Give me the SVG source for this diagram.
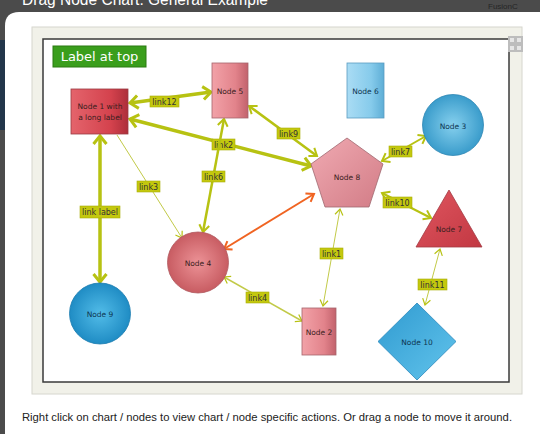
<svg xmlns="http://www.w3.org/2000/svg" width="540" height="434" viewBox="0 0 540 434">
<style>
.nt{font-family:"DejaVu Sans",Verdana,sans-serif;font-size:7.5px;fill:#3a2020;text-anchor:middle}
.bt{fill:#0d3550}
.lb{fill:#c4c80e;stroke:#a9ad08;stroke-width:0.6}
.lt{font-family:"DejaVu Sans",Verdana,sans-serif;font-size:8px;fill:#333;text-anchor:middle}
.ln{fill:none;stroke:#b7c212}
.thin{stroke:#c2ca48}
</style>
<defs>
<linearGradient id="gRed" x1="0" y1="0" x2="1" y2="0"><stop offset="0" stop-color="#e4646c"/><stop offset="0.7" stop-color="#d4424d"/><stop offset="1" stop-color="#ad2e3a"/></linearGradient>
<linearGradient id="gPink" x1="0" y1="0" x2="1" y2="0"><stop offset="0" stop-color="#f2a2a8"/><stop offset="0.65" stop-color="#e2838b"/><stop offset="1" stop-color="#c2626c"/></linearGradient>
<linearGradient id="gBlueR" x1="0" y1="0" x2="1" y2="0"><stop offset="0" stop-color="#aadcf4"/><stop offset="0.65" stop-color="#86cbeb"/><stop offset="1" stop-color="#5eaed6"/></linearGradient>
<linearGradient id="gPent" x1="0" y1="0" x2="1" y2="1"><stop offset="0" stop-color="#f0aab2"/><stop offset="1" stop-color="#d27c86"/></linearGradient>
<linearGradient id="gTri" x1="0" y1="0" x2="1" y2="1"><stop offset="0" stop-color="#e05660"/><stop offset="1" stop-color="#c23842"/></linearGradient>
<linearGradient id="gDia" x1="0" y1="0" x2="1" y2="1"><stop offset="0" stop-color="#2f9ad0"/><stop offset="1" stop-color="#62c4ec"/></linearGradient>
<radialGradient id="gC4" cx="0.5" cy="0.5" r="0.5"><stop offset="0" stop-color="#ec9296"/><stop offset="1" stop-color="#c85c62"/></radialGradient>
<radialGradient id="gC3" cx="0.5" cy="0.5" r="0.5"><stop offset="0" stop-color="#86d0ee"/><stop offset="1" stop-color="#3a9ccb"/></radialGradient>
<radialGradient id="gC9" cx="0.5" cy="0.5" r="0.5"><stop offset="0" stop-color="#52bce8"/><stop offset="1" stop-color="#1f8cc4"/></radialGradient>
<marker id="aT" markerUnits="userSpaceOnUse" markerWidth="24" markerHeight="24" refX="13" refY="12" orient="auto-start-reverse" overflow="visible"><path d="M5,5.5 L13,12 L5,18.5" fill="none" stroke="#b7c212" stroke-width="3"/></marker>
<marker id="aM" markerUnits="userSpaceOnUse" markerWidth="24" markerHeight="24" refX="12.5" refY="12" orient="auto-start-reverse" overflow="visible"><path d="M5.5,7 L12.5,12 L5.5,17" fill="none" stroke="#b7c212" stroke-width="2"/></marker>
<marker id="aS" markerUnits="userSpaceOnUse" markerWidth="24" markerHeight="24" refX="12" refY="12" orient="auto-start-reverse" overflow="visible"><path d="M6,8 L12,12 L6,16" fill="none" stroke="#b7c212" stroke-width="1.2"/></marker>
<marker id="aO" markerUnits="userSpaceOnUse" markerWidth="24" markerHeight="24" refX="12.5" refY="12" orient="auto-start-reverse" overflow="visible"><path d="M5.5,7 L12.5,12 L5.5,17" fill="none" stroke="#f06422" stroke-width="2"/></marker>
</defs>

<!-- page background -->
<rect x="0" y="0" width="540" height="434" fill="#4b4b4b"/>
<rect x="0" y="40" width="6" height="90" fill="#22364a"/>
<text x="22" y="5" font-family="Liberation Sans,Arial,sans-serif" font-size="16" fill="#ffffff" textLength="246" lengthAdjust="spacingAndGlyphs">Drag Node Chart: General Example</text>
<text x="488" y="9" font-family="Liberation Sans,Arial,sans-serif" font-size="8" fill="#262626">FusionC</text>
<path d="M5,434 L5,26 Q5,12 19,12 L540,12 L540,434 Z" fill="#ffffff"/>

<!-- chart frame -->
<rect x="32" y="27" width="490" height="367" fill="#f1f1e9" stroke="#d6d6ce" stroke-width="1"/>
<rect x="43" y="39" width="466" height="343" fill="#ffffff" stroke="#3a3a3a" stroke-width="1.5"/>
<g id="fullscreen-icon">
<rect x="508" y="36" width="15" height="16" fill="#bdbdbd"/>
<path d="M510,38 h4 v4 h-4z M517,38 h4 v4 h-4z M510,46 h4 v4 h-4z M517,46 h4 v4 h-4z" fill="#e6e6e6"/>
</g>

<g id="caption-label">
<rect x="53" y="46" width="93" height="21" fill="#3a9e1c" stroke="#2a7a10" stroke-width="1"/>
<text x="99.5" y="61" font-family="DejaVu Sans,Verdana,sans-serif" font-size="13" fill="#ffffff" text-anchor="middle">Label at top</text>
</g>

<!-- connectors -->
<g id="connectors">
<line class="ln" x1="100" y1="136" x2="100" y2="282" stroke-width="3.5" marker-start="url(#aT)" marker-end="url(#aT)"/>
<line class="ln" x1="130" y1="103" x2="211" y2="92" stroke-width="3.5" marker-start="url(#aT)" marker-end="url(#aT)"/>
<line class="ln" x1="130" y1="119" x2="311" y2="166" stroke-width="3.5" marker-start="url(#aT)" marker-end="url(#aT)"/>
<line class="ln" x1="249" y1="106" x2="317" y2="156" stroke-width="2.5" marker-start="url(#aM)" marker-end="url(#aM)"/>
<line class="ln" x1="382" y1="161" x2="426" y2="136" stroke-width="2" marker-start="url(#aM)" marker-end="url(#aM)"/>
<line class="ln" x1="382" y1="193" x2="431" y2="218" stroke-width="2" marker-start="url(#aM)" marker-end="url(#aM)"/>
<line class="ln thin" x1="117" y1="135" x2="182" y2="238" stroke-width="1" marker-end="url(#aS)"/>
<line class="ln thin" x1="224" y1="277" x2="302" y2="321" stroke-width="1.5" marker-start="url(#aS)" marker-end="url(#aS)"/>
<line class="ln thin" x1="340" y1="209" x2="323" y2="306" stroke-width="1" marker-start="url(#aS)" marker-end="url(#aS)"/>
<line class="ln thin" x1="440" y1="249" x2="425" y2="305" stroke-width="1" marker-start="url(#aS)" marker-end="url(#aS)"/>
<line x1="224" y1="249" x2="314" y2="194" fill="none" stroke="#f06422" stroke-width="2" marker-start="url(#aO)" marker-end="url(#aO)"/>

<g id="label-linklabel"><rect class="lb" x="80" y="206" width="40" height="12"/><text class="lt" x="100" y="215">link label</text></g>
<g id="label-link12"><rect class="lb" x="150" y="96" width="29" height="11"/><text class="lt" x="164.5" y="104.5">link12</text></g>
<g id="label-link2"><rect class="lb" x="212" y="139" width="23" height="11"/><text class="lt" x="223.5" y="147.5">link2</text></g>
<g id="label-link9"><rect class="lb" x="277" y="128" width="23" height="11"/><text class="lt" x="288.5" y="136.5">link9</text></g>
<g id="label-link7"><rect class="lb" x="389" y="146" width="23" height="11"/><text class="lt" x="400.5" y="154.5">link7</text></g>
<g id="label-link10"><rect class="lb" x="383" y="197" width="29" height="11"/><text class="lt" x="397.5" y="205.5">link10</text></g>
<g id="label-link3"><rect class="lb" x="137" y="181" width="23" height="11"/><text class="lt" x="148.5" y="189.5">link3</text></g>
<g id="label-link4"><rect class="lb" x="246" y="292" width="23" height="11"/><text class="lt" x="257.5" y="300.5">link4</text></g>
<g id="label-link1"><rect class="lb" x="320" y="248" width="23" height="11"/><text class="lt" x="331.5" y="256.5">link1</text></g>
<g id="label-link11"><rect class="lb" x="418" y="279" width="29" height="11"/><text class="lt" x="432.5" y="287.5">link11</text></g>

<line class="ln" x1="203" y1="232" x2="224" y2="119" stroke-width="2.5" marker-start="url(#aM)" marker-end="url(#aM)"/>
<g id="label-link6"><rect class="lb" x="202" y="171" width="23" height="11"/><text class="lt" x="213.5" y="179.5">link6</text></g>
</g>

<!-- nodes -->
<g id="node1"><rect x="71" y="89" width="57" height="45" fill="url(#gRed)" stroke="#9a3a42" stroke-width="0.8"/><text class="nt" x="100" y="109">Node 1 with</text><text class="nt" x="100" y="120">a long label</text></g>
<g id="node5"><rect x="212" y="63" width="36" height="55" fill="url(#gPink)" stroke="#a5646c" stroke-width="0.8"/><text class="nt" x="230" y="94">Node 5</text></g>
<g id="node6"><rect x="347" y="63" width="37" height="55" fill="url(#gBlueR)" stroke="#5a9cc0" stroke-width="0.8"/><text class="nt bt" x="365.5" y="94">Node 6</text></g>
<g id="node8"><polygon points="347,138 383,164 369,207 325,207 311,164" fill="url(#gPent)" stroke="#a06870" stroke-width="0.8"/><text class="nt" x="347" y="180">Node 8</text></g>
<g id="node3"><circle cx="453" cy="125" r="30.5" fill="url(#gC3)" stroke="#2f86b4" stroke-width="0.8"/><text class="nt bt" x="453" y="128.5">Node 3</text></g>
<g id="node7"><polygon points="449,190 482,247 416,247" fill="url(#gTri)" stroke="#a23a42" stroke-width="0.8"/><text class="nt" x="449" y="232">Node 7</text></g>
<g id="node4"><circle cx="198" cy="262.5" r="30.5" fill="url(#gC4)" stroke="#b05a60" stroke-width="0.8"/><text class="nt" x="198" y="266">Node 4</text></g>
<g id="node9"><circle cx="100" cy="313.5" r="30.5" fill="url(#gC9)" stroke="#1c7cb0" stroke-width="0.8"/><text class="nt bt" x="100" y="317">Node 9</text></g>
<g id="node2"><rect x="302" y="308" width="34" height="47" fill="url(#gPink)" stroke="#a5646c" stroke-width="0.8"/><text class="nt" x="319" y="335">Node 2</text></g>
<g id="node10"><polygon points="417,303 456,341.5 417,380 378,341.5" fill="url(#gDia)" stroke="#2a88bc" stroke-width="0.8"/><text class="nt bt" x="417" y="345">Node 10</text></g>

<text x="22" y="421" font-family="Liberation Sans,Arial,sans-serif" font-size="11" fill="#222222" textLength="490" lengthAdjust="spacingAndGlyphs">Right click on chart / nodes to view chart / node specific actions. Or drag a node to move it around.</text>
</svg>
